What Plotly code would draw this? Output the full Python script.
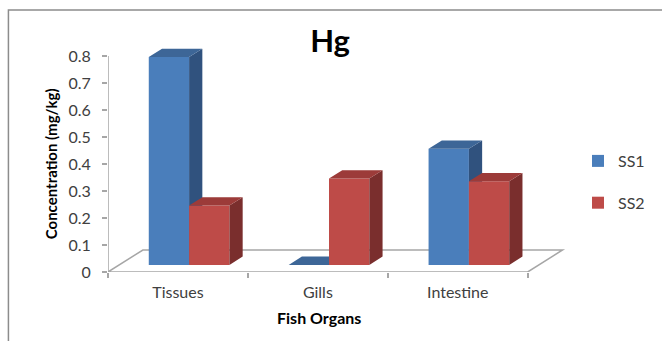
import plotly.graph_objects as go

# ---- data -------------------------------------------------------------
ORGANS = ["Tissues", "Gills", "Intestine"]
SERIES = ["SS1", "SS2"]
SS1 = [0.77, 0.0, 0.43]
SS2 = [0.22, 0.32, 0.31]
Y_TICKS = [0, 0.1, 0.2, 0.3, 0.4, 0.5, 0.6, 0.7, 0.8]
Y_TICK_TEXT = ["0", "0.1", "0.2", "0.3", "0.4", "0.5", "0.6", "0.7", "0.8"]

VALUES = {"SS1": SS1, "SS2": SS2}
FRONT = {"SS1": "#4A7EBB", "SS2": "#BE4B48"}
TOP = {"SS1": "#3D6697", "SS2": "#9C3B39"}
SIDE = {"SS1": "#30527E", "SS2": "#7A2E2D"}

# ---- geometry ---------------------------------------------------------
W, H = 662, 341
ML, MR, MT, MB = 108, 87, 38, 69
PLOT_W = W - ML - MR
PLOT_H = H - MT - MB
CAT_PX = 140.5          # pixels per category slot
UNIT_PX = 270.0         # pixels per 1 mg/kg

X_RANGE = [-0.5, -0.5 + PLOT_W / CAT_PX]
Y_RANGE = [0.0, PLOT_H / UNIT_PX]

# oblique projection of the depth axis (floor of the 3-D chart)
FLOOR_DX = 35 / CAT_PX
FLOOR_DY = 22 / UNIT_PX
BAR_Z0, BAR_Z1 = 0.32, 0.70      # depth slab occupied by the columns
BAR_W = 40.5 / CAT_PX

SHIFT_X = BAR_Z0 * FLOOR_DX
SHIFT_Y = BAR_Z0 * FLOOR_DY
DEPTH_X = (BAR_Z1 - BAR_Z0) * FLOOR_DX
DEPTH_Y = (BAR_Z1 - BAR_Z0) * FLOOR_DY

FONT = "Lato, 'Open Sans', Arial, sans-serif"
GRAY_LINE = "#A6A6A6"
TEXT = "#404040"

positions = list(range(len(ORGANS)))


def px_to_paper_x(px):
    return (px - ML) / PLOT_W


def px_to_paper_y(py):
    return (H - MB - py) / PLOT_H


fig = go.Figure()
layout_axes = {}

for k, name in enumerate(SERIES):
    vals = VALUES[name]
    xa, ya = f"x{k + 2}", f"y{k + 2}"
    offset = (k - 1) * BAR_W

    # front faces
    fig.add_trace(go.Bar(
        x=positions, y=vals, width=BAR_W, offset=offset,
        name=name, legendgroup=name,
        marker=dict(color=FRONT[name], line=dict(width=0)),
        xaxis=xa, yaxis=ya, cliponaxis=False, hoverinfo="skip",
    ))

    top_x, top_y, side_x, side_y = [], [], [], []
    for p, v in zip(positions, vals):
        x0 = p + offset
        x1 = x0 + BAR_W
        top_x += [x0, x1, x1 + DEPTH_X, x0 + DEPTH_X, x0, None]
        top_y += [v, v, v + DEPTH_Y, v + DEPTH_Y, v, None]
        side_x += [x1, x1, x1 + DEPTH_X, x1 + DEPTH_X, x1, None]
        side_y += [0, v, v + DEPTH_Y, DEPTH_Y, 0, None]

    fig.add_trace(go.Scatter(
        x=side_x, y=side_y, mode="lines", fill="toself",
        fillcolor=SIDE[name], line=dict(width=0, color=SIDE[name]),
        xaxis=xa, yaxis=ya, showlegend=False, hoverinfo="skip",
        legendgroup=name,
    ))
    fig.add_trace(go.Scatter(
        x=top_x, y=top_y, mode="lines", fill="toself",
        fillcolor=TOP[name], line=dict(width=0, color=TOP[name]),
        xaxis=xa, yaxis=ya, showlegend=False, hoverinfo="skip",
        legendgroup=name,
    ))

    layout_axes[f"xaxis{k + 2}"] = dict(
        overlaying="x", range=[X_RANGE[0] - SHIFT_X, X_RANGE[1] - SHIFT_X],
        visible=False, fixedrange=True)
    layout_axes[f"yaxis{k + 2}"] = dict(
        overlaying="y", range=[Y_RANGE[0] - SHIFT_Y, Y_RANGE[1] - SHIFT_Y],
        visible=False, fixedrange=True)

# floor outline and value-axis line
x_lo, x_hi = positions[0] - 0.5, positions[-1] + 0.5
floor_path = (f"M {x_lo},0 L {x_hi},0 L {x_hi + FLOOR_DX},{FLOOR_DY} "
              f"L {x_lo + FLOOR_DX},{FLOOR_DY} Z")
shapes = [
    dict(type="path", path=floor_path, xref="x", yref="y",
         line=dict(color=GRAY_LINE, width=1.5), layer="below"),
    dict(type="line", xref="x", yref="y", x0=x_lo, x1=x_lo,
         y0=0, y1=Y_TICKS[-1], line=dict(color=GRAY_LINE, width=1.5),
         layer="below"),
    # chart frame
    dict(type="rect", xref="paper", yref="paper",
         x0=px_to_paper_x(8), x1=px_to_paper_x(W + 20),
         y0=px_to_paper_y(H + 20), y1=px_to_paper_y(10),
         line=dict(color="#8C8C8C", width=1.5), fillcolor="rgba(0,0,0,0)"),
]

annotations = [
    dict(text="<b>Concentration (mg/kg)</b>", textangle=-90,
         xref="paper", yref="paper", x=px_to_paper_x(51), y=px_to_paper_y(164),
         xanchor="center", yanchor="middle", showarrow=False,
         font=dict(size=15, color="#000000")),
    dict(text="<b>Fish Organs</b>",
         xref="paper", yref="paper", x=px_to_paper_x(320), y=px_to_paper_y(317),
         xanchor="center", yanchor="middle", showarrow=False,
         font=dict(size=16, color="#000000")),
]

fig.update_layout(
    width=W, height=H,
    margin=dict(l=ML, r=MR, t=MT, b=MB, pad=0),
    paper_bgcolor="white", plot_bgcolor="white",
    font=dict(family=FONT, color=TEXT, size=16),
    barmode="overlay",
    title=dict(text="<b>Hg</b>", font=dict(size=31, color="#000000"),
               xref="paper", x=px_to_paper_x(331), xanchor="center",
               yref="container", y=1 - 41 / H, yanchor="middle"),
    xaxis=dict(
        range=X_RANGE, tickmode="array", tickvals=positions, ticktext=ORGANS,
        ticks="", showline=False, showgrid=False, zeroline=False,
        ticklabelstandoff=9, fixedrange=True,
        minor=dict(tickmode="array",
                   tickvals=[p - 0.5 for p in positions] + [x_hi],
                   ticks="outside", ticklen=5, tickcolor=GRAY_LINE,
                   tickwidth=1.5, showgrid=False),
    ),
    yaxis=dict(
        range=Y_RANGE, tickmode="array", tickvals=Y_TICKS, ticktext=Y_TICK_TEXT,
        ticks="outside", ticklen=5, tickcolor=GRAY_LINE, tickwidth=1.5,
        showline=False, showgrid=False, zeroline=False,
        ticklabelstandoff=8, fixedrange=True,
    ),
    legend=dict(x=px_to_paper_x(580), xanchor="left",
                y=px_to_paper_y(182), yanchor="middle",
                font=dict(size=16, color=TEXT), tracegroupgap=18,
                bgcolor="rgba(0,0,0,0)", itemclick=False),
    shapes=shapes,
    annotations=annotations,
    **layout_axes,
)

fig.write_html("out.html")
